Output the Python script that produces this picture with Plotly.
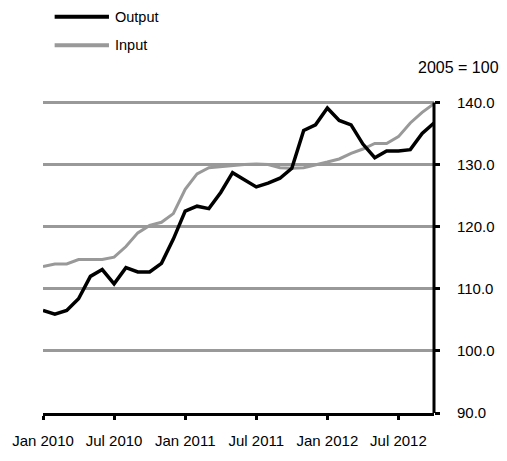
import plotly.graph_objects as go

months = [f"{m} {y}" for y in (2010, 2011, 2012)
          for m in ("Jan", "Feb", "Mar", "Apr", "May", "Jun",
                    "Jul", "Aug", "Sep", "Oct", "Nov", "Dec")][:34]

output_name = "Output"
input_name = "Input"

output_values = [106.5, 105.9, 106.5, 108.4, 112.0, 113.1, 110.8, 113.4, 112.7, 112.7,
                 114.1, 118.0, 122.5, 123.3, 122.9, 125.5, 128.7, 127.5, 126.4, 127.0,
                 127.8, 129.4, 135.5, 136.4, 139.1, 137.1, 136.4, 133.3, 131.1, 132.2,
                 132.2, 132.4, 135.0, 136.7]
input_values = [113.6, 114.0, 114.0, 114.7, 114.7, 114.7, 115.1, 116.8, 119.0, 120.2,
                120.7, 122.1, 126.0, 128.5, 129.5, 129.7, 129.8, 130.0, 130.1, 130.0,
                129.5, 129.4, 129.5, 129.9, 130.4, 130.9, 131.8, 132.5, 133.4, 133.4,
                134.5, 136.7, 138.4, 139.8]

tick_labels = ["Jan 2010", "Jul 2010", "Jan 2011", "Jul 2011", "Jan 2012", "Jul 2012"]
y_ticks = [90, 100, 110, 120, 130, 140]
unit_note = "2005 = 100"

x_idx = list(range(len(months)))
tick_idx = [months.index(t) for t in tick_labels]

FONT = "Liberation Sans, Arial, Helvetica, sans-serif"
GRAY = "#999999"

fig = go.Figure()
fig.add_trace(go.Scatter(x=x_idx, y=input_values, mode="lines", name=input_name,
                         line=dict(color=GRAY, width=3), hoverinfo="skip"))
fig.add_trace(go.Scatter(x=x_idx, y=output_values, mode="lines", name=output_name,
                         line=dict(color="#000000", width=3.5), hoverinfo="skip"))

W, H = 507, 461
L, R, T, B = 40, W - 443, 100, H - 420
pw, ph = W - L - R, H - T - B
# 140 sits at y=102.5 px, 90 at y=420 px; leave a little headroom above 140
y_top = 90 + 50 * ph / (420 - 102.5)


def px(x):
    return (x - L) / pw


def py(y):
    return (H - B - y) / ph


# manual legend
for name, color, yy in ((output_name, "#000000", 15), (input_name, GRAY, 44)):
    fig.add_shape(type="line", xref="paper", yref="paper",
                  x0=px(52), x1=px(108), y0=py(yy), y1=py(yy),
                  line=dict(color=color, width=4))
    fig.add_annotation(xref="paper", yref="paper", x=px(112), y=py(yy),
                       xanchor="left", yanchor="middle", text=name, showarrow=False,
                       font=dict(size=14.5, color="#000000", family=FONT))

fig.add_annotation(xref="paper", yref="paper", x=px(424), y=py(67),
                   xanchor="left", yanchor="middle", text=unit_note, showarrow=False,
                   font=dict(size=16, color="#000000", family=FONT))

fig.update_layout(
    width=W, height=H,
    margin=dict(l=L, r=R, t=T, b=B),
    paper_bgcolor="white", plot_bgcolor="white",
    showlegend=False,
    font=dict(family=FONT, size=15, color="#000000"),
    xaxis=dict(range=[0, len(months) - 1], tickvals=tick_idx, ticktext=tick_labels,
               showgrid=False, zeroline=False, showline=True, linecolor="#000000",
               linewidth=3, ticks="outside", ticklen=4, tickwidth=3, tickcolor="#000000",
               ticklabelstandoff=8, fixedrange=True),
    yaxis=dict(range=[90, y_top], tickvals=y_ticks, tickformat=".1f", side="right",
               showgrid=True, gridcolor=GRAY, gridwidth=3, zeroline=False,
               showline=False, ticks="outside",
               ticklen=5, tickwidth=3, tickcolor="#000000", ticklabelstandoff=14,
               fixedrange=True),
)

# right axis line from 90 to 140 only (as in the reference)
fig.add_shape(type="line", xref="paper", yref="y", x0=1, x1=1, y0=y_ticks[0], y1=y_ticks[-1],
              line=dict(color="#000000", width=3))

fig.write_html("out.html",
               config={"displayModeBar": False, "staticPlot": True},
               post_script="document.body.style.margin='0px';"
                           "document.body.style.overflow='hidden';")
